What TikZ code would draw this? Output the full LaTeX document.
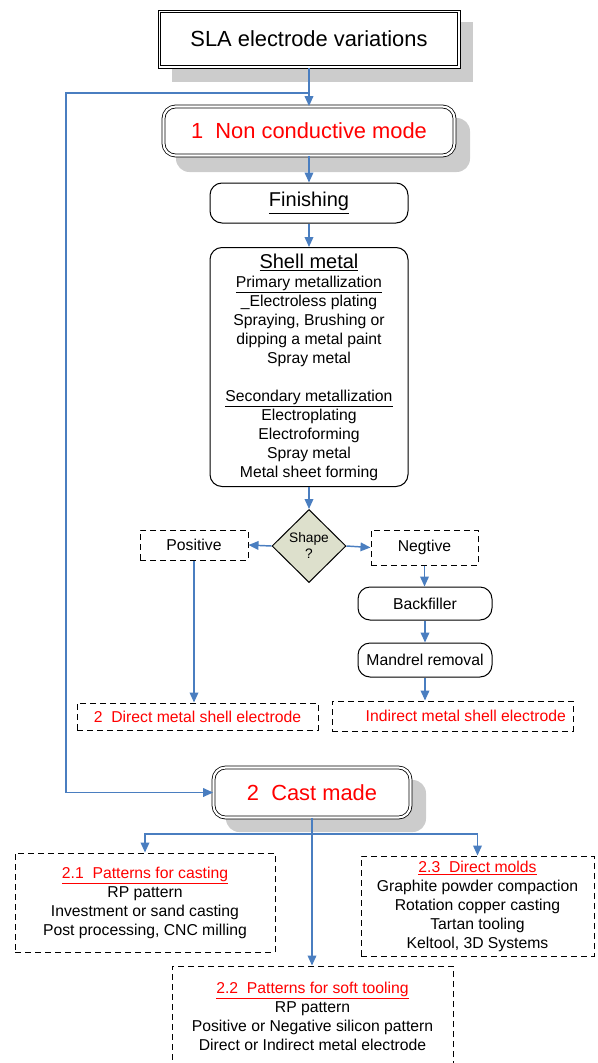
\documentclass[tikz,border=0pt]{standalone}
\usepackage{fontspec}
\setmainfont{Liberation Sans}
\usetikzlibrary{arrows.meta,shapes.geometric}
\definecolor{cblue}{RGB}{74,126,192}
\definecolor{cred}{RGB}{255,0,0}
\definecolor{shadowgray}{RGB}{204,204,204}
\definecolor{dfill}{RGB}{221,224,204}
\newcommand\myfbig{\fontsize{16.4}{19}\selectfont}
\newcommand\myfmid{\fontsize{15}{17}\selectfont}
\newcommand\myfsm{\fontsize{11.8}{14.25}\selectfont}
\newcommand\myfdia{\fontsize{10.3}{12}\selectfont}
\tikzset{
  conn/.style={draw=cblue, line width=1.1pt, -{Triangle[width=6.5pt,length=7.5pt]}},
  rbox/.style={draw, line width=0.75pt, rounded corners=9pt, inner sep=0pt, fill=white},
  dbox/.style={draw, line width=0.75pt, dash pattern=on 4.5pt off 3pt, inner sep=0pt, fill=white},
  dblbox/.style={draw, line width=0.6pt, double, double distance=1.6pt, inner sep=0pt, fill=white},
  sqbox/.style={draw, line width=0.6pt, inner sep=0pt, fill=white},
  innerline/.style={draw, line width=0.6pt},
}
\begin{document}
\begin{tikzpicture}[x=0.75pt,y=-0.75pt]
\useasboundingbox (0,0) rectangle (597,1063);
% shadows
\fill[shadowgray] (172,22) rectangle (473,82);
\fill[shadowgray, rounded corners=10pt] (176,118) rectangle (470,172);
\fill[shadowgray, rounded corners=10pt] (226,780) rectangle (426,832);
% nodes
\node[sqbox, minimum width=226.5pt, minimum height=43.5pt, font=\myfbig] (title) at (309,39) {SLA electrode variations};
\draw[innerline] ([shift={(2.2pt,-2.2pt)}]title.north west) rectangle ([shift={(-2.2pt,2.2pt)}]title.south east);
\node[dblbox, rounded corners=9pt, minimum width=218.25pt, minimum height=36.75pt, font=\myfbig, text=cred] (nc) at (309,131) {1\ \ Non conductive mode};
\node[rbox, minimum width=148.5pt, minimum height=30pt, font=\myfmid] (fin) at (309,203) {\underline{Finishing}};
\node[rbox, minimum width=148.5pt, minimum height=179.25pt, align=center, font=\myfsm] (shell) at (309,367)
  {{\myfmid\underline{Shell metal}}\\
   \underline{Primary metallization}\\
   \_Electroless plating\\
   Spraying, Brushing or\\
   dipping a metal paint\\
   Spray metal\\[14.25pt]
   \underline{Secondary metallization}\\
   Electroplating\\
   Electroforming\\
   Spray metal\\
   Metal sheet forming};
\node[diamond, draw, fill=dfill, line width=0.75pt, minimum width=55.5pt, minimum height=54.75pt, inner sep=0pt, align=center, font=\myfdia] (dia) at (309,546) {Shape\\?};
\node[dbox, minimum width=81pt, minimum height=22.5pt, font=\myfsm] (pos) at (194,545) {Positive};
\node[dbox, minimum width=80.25pt, minimum height=26.25pt, font=\myfsm] (neg) at (424.5,547.5) {Negtive};
\node[rbox, minimum width=100.5pt, minimum height=24.75pt, font=\myfsm] (back) at (425,603.5) {Backfiller};
\node[rbox, minimum width=100.5pt, minimum height=25.5pt, font=\myfsm] (mand) at (425,660) {Mandrel removal};
\node[dbox, minimum width=180.75pt, minimum height=22.5pt, font=\myfsm, text=cred] (ind) at (452.5,716) {\hspace*{20pt}Indirect metal shell electrode};
\node[dbox, minimum width=180.75pt, minimum height=20.25pt, font=\myfsm, text=cred] (dir) at (197.5,716.5) {2\ \ Direct metal shell electrode};
\node[dblbox, rounded corners=9pt, minimum width=147.75pt, minimum height=37.5pt, font=\myfbig, text=cred] (cast) at (312,792.5) {2\ \ Cast made};
\node[dbox, minimum width=195pt, minimum height=74.25pt, align=center, font=\myfsm] (p21) at (145,902.5)
  {\textcolor{cred}{\underline{2.1\ \ Patterns for casting}}\\
   RP pattern\\
   Investment or sand casting\\
   Post processing, CNC milling};
\node[dbox, minimum width=174.75pt, minimum height=75pt, align=center, font=\myfsm] (p23) at (477.5,906)
  {\textcolor{cred}{\underline{2.3\ \ Direct molds}}\\
   Graphite powder compaction\\
   Rotation copper casting\\
   Tartan tooling\\
   Keltool, 3D Systems};
\node[dbox, minimum width=210.75pt, minimum height=75pt, align=center, font=\myfsm] (p22) at (312.5,1016)
  {\textcolor{cred}{\underline{2.2\ \ Patterns for soft tooling}}\\
   RP pattern\\
   Positive or Negative silicon pattern\\
   Direct or Indirect metal electrode};
% connectors
\coordinate (jn) at (309,93);
\coordinate (lt) at (66,93);
\coordinate (lb) at (66,792.5);
\coordinate (br) at (312,834);
\draw[conn] (title.south) -- (nc.north);
\draw[conn] (jn) -- (lt) -- (lb) -- (cast.west);
\draw[conn] (nc.south) -- (fin.north);
\draw[conn] (fin.south) -- (shell.north);
\draw[conn] (shell.south) -- (dia.north);
\draw[conn] (dia.west) -- (pos.east);
\draw[conn] (dia.east) -- (neg.west);
\draw[conn] (neg.south) -- (neg.south |- back.north);
\draw[conn] (back.south) -- (mand.north);
\draw[conn] (mand.south) -- (mand.south |- ind.north);
\draw[conn] (pos.south) -- (pos.south |- dir.north);
\draw[conn] (cast.south) -- (cast.south |- p22.north);
\draw[conn] (br) -| (p21.north);
\draw[conn] (br) -| (p23.north);
\end{tikzpicture}
\end{document}
